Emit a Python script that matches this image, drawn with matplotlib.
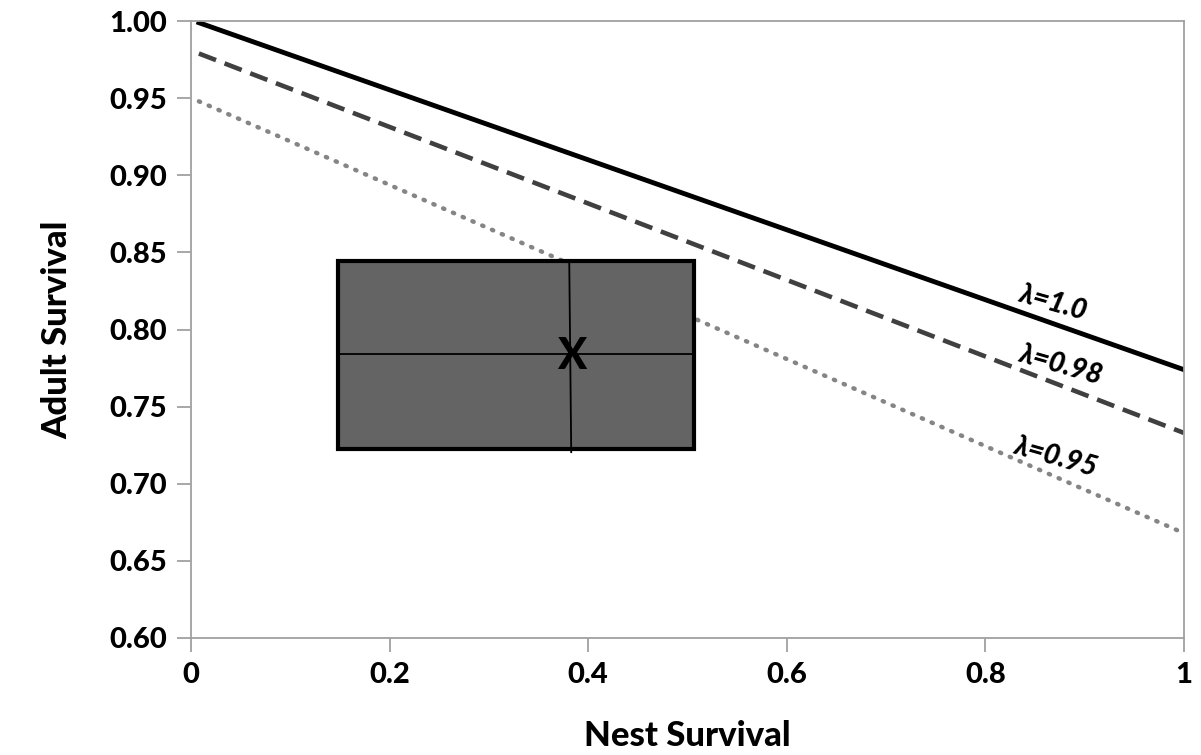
import numpy as np
import matplotlib.pyplot as plt
from matplotlib.patches import Rectangle

plt.rcParams['font.family'] = ['Lato', 'DejaVu Sans']

# ---------------------------------------------------- isoclines
nest_x = [0.008, 1.0]
lam_10 = [0.999, 0.774]
lam_098 = [0.979, 0.733]
lam_095 = [0.948, 0.668]

# ---------------------------------------------------- observed range box
box_x = [0.148, 0.507]
box_y = [0.7225, 0.8445]
mean_x = 0.382
mean_y = 0.783

fig = plt.figure(figsize=(12.01, 7.55), dpi=100)
ax = fig.add_axes([0.159, 0.155, 0.8267, 0.817])

ax.add_patch(Rectangle((box_x[0], box_y[0]), box_x[1] - box_x[0], box_y[1] - box_y[0],
                       facecolor='#646464', edgecolor='black', linewidth=3, zorder=2))
ax.plot(box_x, [mean_y + 0.001, mean_y + 0.001], color='black', lw=1.3, zorder=3)
ax.plot([mean_x - 0.001, mean_x + 0.001], [box_y[1], box_y[0] - 0.002], color='black', lw=1.3, zorder=3)
ax.text(mean_x + 0.001, mean_y, 'X', fontsize=31, fontweight='black', ha='center', va='center', zorder=4)

ax.plot(nest_x, lam_095, color='#858585', lw=3.2, linestyle=(0, (0.3, 2.1)),
        dash_capstyle='round', zorder=1)
ax.plot(nest_x, lam_098, color='#404040', lw=3.3, linestyle=(0, (4, 2)), zorder=2.5)
ax.plot(nest_x, lam_10, color='black', lw=3.5, zorder=2.5)

lab_kw = dict(fontsize=20, fontweight='black', fontstyle='italic', rotation=-16,
              ha='center', va='center')
ax.text(0.869, 0.817, 'λ=1.0', **lab_kw)
ax.text(0.876, 0.777, 'λ=0.98', **lab_kw)
ax.text(0.871, 0.717, 'λ=0.95', **lab_kw)

ax.set_xlim(0, 1)
ax.set_ylim(0.60, 1.00)
ax.set_xticks([0, 0.2, 0.4, 0.6, 0.8, 1.0])
ax.set_xticklabels(['0', '0.2', '0.4', '0.6', '0.8', '1'])
ax.set_yticks(np.arange(0.60, 1.001, 0.05))
ax.set_yticklabels(['%.2f' % v for v in np.arange(0.60, 1.001, 0.05)])

for s in ax.spines.values():
    s.set_color('#a0a0a0')
    s.set_linewidth(1.3)
ax.tick_params(direction='out', length=10, width=1.3, color='#a0a0a0', labelsize=21, pad=7)
for lab in ax.get_xticklabels() + ax.get_yticklabels():
    lab.set_fontweight('black')

ax.set_xlabel('Nest Survival', fontsize=25, fontweight='black', labelpad=23)
ax.set_ylabel('Adult Survival', fontsize=25, fontweight='black', labelpad=26)

plt.savefig('out.png', dpi=100)
